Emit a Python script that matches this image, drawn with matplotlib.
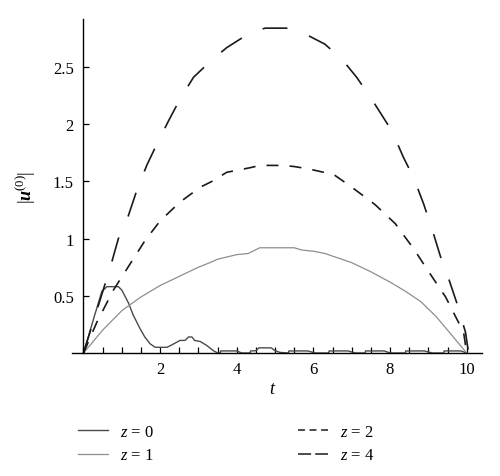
import matplotlib
matplotlib.use("Agg")
import matplotlib.pyplot as plt
from matplotlib.lines import Line2D
from matplotlib.ticker import MultipleLocator, FixedLocator

plt.rcParams['font.family'] = ['Liberation Serif', 'DejaVu Serif']
plt.rcParams['mathtext.fontset'] = 'custom'
plt.rcParams['mathtext.rm'] = 'Liberation Serif'
plt.rcParams['mathtext.it'] = 'Liberation Serif:italic'
plt.rcParams['mathtext.bf'] = 'Liberation Serif:bold'
plt.rcParams['mathtext.bfit'] = 'Liberation Serif:italic:bold'
plt.rcParams['lines.scale_dashes'] = False

# ---- data ----
t_z0 = [0, 0.15, 0.3, 0.48, 0.55, 0.61, 0.75, 0.91, 1.0, 1.17, 1.3, 1.48, 1.6, 1.74,
        1.87, 2.0, 2.18, 2.3, 2.52, 2.65, 2.74, 2.83, 2.9, 3.05, 3.22, 3.39, 3.5,
        3.57, 3.58, 4.0, 4.13, 4.35, 4.36, 4.5, 4.58, 4.9, 5.0, 5.13, 5.35, 5.36,
        5.85, 6.05, 6.4, 6.41, 6.9, 7.1, 7.35, 7.36, 7.85, 8.0, 8.4, 8.41, 8.9, 9.1,
        9.4, 9.41, 9.85, 10.0]
v_z0 = [0, 0.17, 0.34, 0.54, 0.56, 0.58, 0.58, 0.58, 0.55, 0.44, 0.33, 0.21, 0.14, 0.08,
        0.05, 0.05, 0.05, 0.07, 0.11, 0.11, 0.14, 0.14, 0.11, 0.10, 0.065, 0.02, 0.0,
        0.0, 0.018, 0.018, 0.0, 0.0, 0.018, 0.02, 0.045, 0.045, 0.02, 0.005, 0.0, 0.018,
        0.018, 0.0, 0.0, 0.018, 0.018, 0.0, 0.0, 0.018, 0.018, 0.0, 0.0, 0.018, 0.018, 0.0,
        0.0, 0.018, 0.018, 0.0]

t_z1 = [0, 0.5, 1, 1.5, 2, 2.5, 3, 3.3, 3.5, 4, 4.3, 4.6, 5, 5.5, 5.7, 6.0, 6.3,
        7, 7.5, 8, 8.4, 8.8, 9.2, 9.6, 10]
v_z1 = [0, 0.2, 0.37, 0.49, 0.59, 0.67, 0.75, 0.79, 0.82, 0.86, 0.87, 0.92, 0.92, 0.92,
        0.9, 0.89, 0.87, 0.79, 0.71, 0.62, 0.54, 0.45, 0.32, 0.16, 0]

t_z2 = [0, 0.35, 0.78, 1.2, 1.6, 2.0, 2.52, 3.05, 3.35, 3.74, 4.35, 4.6, 5.22, 5.5,
        5.87, 6.53, 6.96, 7.6, 8.14, 8.4, 8.62, 8.97, 9.45, 9.92, 10]
v_z2 = [0, 0.27, 0.55, 0.77, 0.98, 1.155, 1.32, 1.45, 1.5, 1.58, 1.62, 1.64, 1.64, 1.63,
        1.61, 1.56, 1.46, 1.30, 1.13, 1.01, 0.91, 0.73, 0.49, 0.18, 0]

t_z4 = [0, 0.7, 0.91, 1.17, 1.39, 1.65, 1.92, 2.22, 2.52, 2.87, 3.31, 3.74, 4.35, 4.74,
        5.3, 5.78, 6.3, 6.74, 7.13, 7.52, 8.05, 8.35, 8.62, 8.88, 9.1, 9.31, 9.53, 9.75,
        9.97, 10.05]
v_z4 = [0, 0.75, 1.0, 1.2, 1.42, 1.64, 1.83, 2.03, 2.22, 2.41, 2.55, 2.67, 2.80, 2.84,
        2.84, 2.79, 2.70, 2.57, 2.41, 2.22, 1.94, 1.71, 1.53, 1.30, 1.08, 0.85, 0.65, 0.43,
        0.18, 0]

labels = [r'$z$ = 0', r'$z$ = 1', r'$z$ = 2', r'$z$ = 4']
x_major = [2, 4, 6, 8, 10]
y_ticks = [0.5, 1, 1.5, 2, 2.5]
y_ticklabels = ['0.5', '1', '1.5', '2', '2.5']

c0, c1, ck = '#4a4a4a', '#8e8e8e', '#1a1a1a'

fig = plt.figure(figsize=(5.0, 4.77), dpi=100)
ax = fig.add_axes([72/500, 1-354/477, 410/500, 334/477])

ax.plot(t_z0, v_z0, color=c0, lw=1.0)
ax.plot(t_z1, v_z1, color=c1, lw=0.9)
ax.plot(t_z2, v_z2, color=ck, lw=1.2, dashes=(8.6, 8.0))
ax.plot(t_z4, v_z4, color=ck, lw=1.2, dashes=(18, 16.5))

ax.set_xlim(-0.3, 10.4)
ax.set_ylim(0, 2.92)

for s in ['top', 'right']:
    ax.spines[s].set_visible(False)
ax.spines['left'].set_position(('data', 0))
ax.spines['bottom'].set_position(('data', 0))
ax.spines['left'].set_bounds(0, 2.92)
ax.spines['left'].set_linewidth(1.0)
ax.spines['bottom'].set_linewidth(1.0)

ax.xaxis.set_major_locator(FixedLocator(x_major))
ax.xaxis.set_minor_locator(MultipleLocator(0.5))
ax.set_yticks(y_ticks)
ax.set_yticklabels(y_ticklabels)
ax.tick_params(axis='x', which='both', direction='in', length=4, width=0.9,
               labelsize=12, pad=6)
ax.tick_params(axis='y', which='both', direction='in', length=4, width=0.9,
               labelsize=12, pad=7)

ax.set_xlabel(r'$t$', fontsize=13)
ax.xaxis.set_label_coords(0.49, -0.08)
ax.set_ylabel(r'$|\mathbfit{u}^{(0)}|$', fontsize=13)
ax.yaxis.set_label_coords(-0.083, 0.5)

handles = [
    Line2D([], [], color=c0, lw=1.0),
    Line2D([], [], color=c1, lw=0.9),
    Line2D([], [], color=ck, lw=1.1, dashes=(5, 3.3)),
    Line2D([], [], color=ck, lw=1.1, dashes=(9.4, 3)),
]
fig.legend(handles, labels, loc='upper left', bbox_to_anchor=(78/500, 1-425/477),
           ncol=2, frameon=False, fontsize=12, handlelength=1.8, handletextpad=0.75,
           columnspacing=8.6, labelspacing=0.45, borderpad=0, borderaxespad=0)

fig.savefig('out.png', dpi=100)
